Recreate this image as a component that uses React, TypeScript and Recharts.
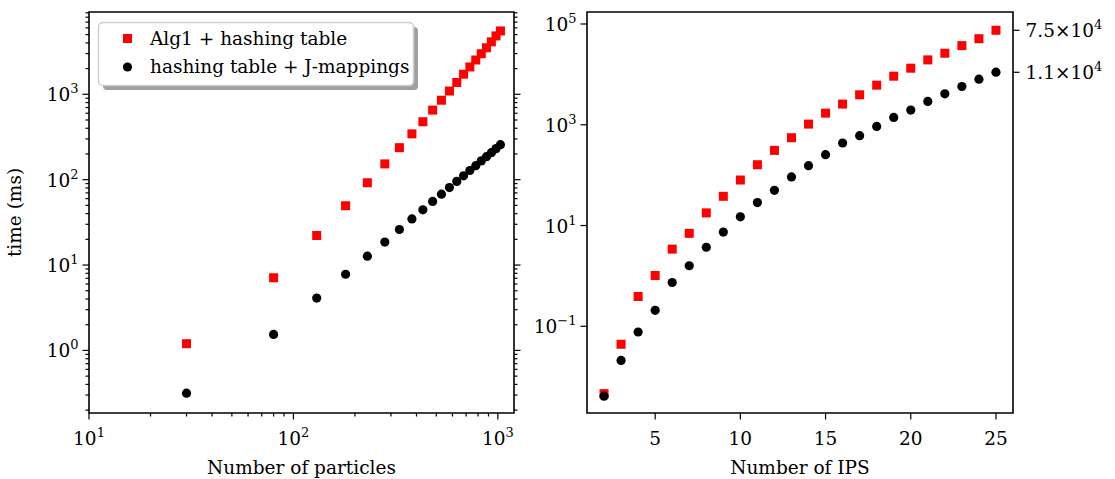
import React from "react";
import { ScatterChart, Scatter, XAxis, YAxis, ReferenceArea } from "recharts";

// left panel: time vs number of particles (log-log)
const particles = [30, 80, 130, 180, 230, 280, 330, 380, 430, 480, 530, 580, 630, 680, 730, 780, 830, 880, 930, 980, 1030];
const alg1Particles = [1.2, 7.1, 22.2, 49.5, 92, 153, 237, 344, 477, 653, 852, 1092, 1376, 1719, 2090, 2522, 2985, 3505, 4115, 4830, 5520];
const jmapParticles = [0.316, 1.54, 4.1, 7.8, 12.7, 18.6, 26.1, 34.7, 44.4, 55.6, 67.6, 80.8, 95.5, 111, 128, 146, 166, 186, 207, 231, 257];

// right panel: time vs number of IPS (semi-log)
const ips = [2, 3, 4, 5, 6, 7, 8, 9, 10, 11, 12, 13, 14, 15, 16, 17, 18, 19, 20, 21, 22, 23, 24, 25];
const alg1Ips = [0.0046, 0.044, 0.39, 1.02, 3.4, 7.0, 17.8, 38, 80, 161, 310, 553, 1030, 1700, 2570, 3930, 6110, 9200, 13270, 19400, 26300, 37200, 51000, 75000];
const jmapIps = [0.0041, 0.021, 0.077, 0.207, 0.74, 1.59, 3.7, 7.4, 14.9, 28.5, 50, 92, 154, 255, 434, 606, 925, 1395, 1955, 2900, 4110, 5750, 8040, 11070];

// ticks
const particleMajor = [10, 100, 1000];
const particleMinor = [20, 30, 40, 50, 60, 70, 80, 90, 200, 300, 400, 500, 600, 700, 800, 900];
const timeMajorL = [1, 10, 100, 1000];
const timeMinorL = [0.2, 0.3, 0.4, 0.5, 0.6, 0.7, 0.8, 0.9, 2, 3, 4, 5, 6, 7, 8, 9, 20, 30, 40, 50, 60, 70, 80, 90,
  200, 300, 400, 500, 600, 700, 800, 900, 2000, 3000, 4000, 5000, 6000, 7000, 8000, 9000];
const ipsTicks = [5, 10, 15, 20, 25];
const timeMajorR = [0.1, 10, 1000, 100000];
const endTicks = [11000, 75000];
const endLabels = ["1.1", "7.5"];

const FONT = "'DejaVu Serif', 'Liberation Serif', serif";
const FS = 18.5;
const SUP = 13;

const leftXDomain = [10, 1200];
const leftYDomain = [0.185, 9200];
const rightXDomain = [1, 26];
const rightYDomain = [0.0019, 173000];

const leftRed = particles.map((x, i) => ({ x, y: alg1Particles[i] }));
const leftBlack = particles.map((x, i) => ({ x, y: jmapParticles[i] }));
const rightRed = ips.map((x, i) => ({ x, y: alg1Ips[i] }));
const rightBlack = ips.map((x, i) => ({ x, y: jmapIps[i] }));

const isIn = (list: number[], v: number) => list.some((m) => Math.abs(m - v) / m < 1e-9);
const expOf = (v: number) => {
  const e = Math.round(Math.log10(v));
  return e < 0 ? "\u2212" + Math.abs(e) : String(e);
};

const Pow = ({ x, y, anchor, main, exp }: any) => (
  <text x={x} y={y} textAnchor={anchor} fontFamily={FONT} fontSize={FS} fill="#000">
    {main}
    <tspan dy={-8} fontSize={SUP}>{exp}</tspan>
  </text>
);

const yTick = (side: "left" | "right", majors: number[], withLabels: boolean) => (p: any) => {
  const { x, y, payload } = p;
  const v = payload.value;
  const major = isIn(majors, v);
  const len = major ? 6.5 : 3.5;
  const d = side === "left" ? -1 : 1;
  let label = null;
  if (withLabels && major) {
    if (side === "left") {
      label = <Pow x={x - len - 4} y={y + 7} anchor="end" main="10" exp={expOf(v)} />;
    } else {
      const i = endTicks.indexOf(v);
      label = <Pow x={x + len + 6} y={y + 7} anchor="start" main={endLabels[i] + "\u00d710"} exp="4" />;
    }
  }
  return (
    <g>
      <line x1={x} y1={y} x2={x + d * len} y2={y} stroke="#000" strokeWidth={1.2} />
      {label}
    </g>
  );
};

const xTick = (majors: number[], powLabels: boolean) => (p: any) => {
  const { x, y, payload } = p;
  const v = payload.value;
  const major = isIn(majors, v);
  const len = major ? 6.5 : 3.5;
  return (
    <g>
      <line x1={x} y1={y} x2={x} y2={y + len} stroke="#000" strokeWidth={1.2} />
      {major && powLabels && <Pow x={x} y={y + 32} anchor="middle" main="10" exp={expOf(v)} />}
      {major && !powLabels && (
        <text x={x} y={y + 32} textAnchor="middle" fontFamily={FONT} fontSize={FS} fill="#000">
          {v}
        </text>
      )}
    </g>
  );
};

const square = (p: any) => <rect x={p.cx - 4.5} y={p.cy - 4.5} width={9} height={9} fill="#ff0000" />;
const dot = (p: any) => <circle cx={p.cx} cy={p.cy} r={4.6} fill="#000" />;

const inside = (list: number[], dom: number[]) => list.filter((v) => v >= dom[0] && v <= dom[1]);

function LeftPanel() {
  return (
    <ScatterChart width={560} height={479} margin={{ top: 12, right: 0, bottom: 0, left: 0 }}>
      <XAxis dataKey="x" type="number" scale="log" domain={leftXDomain} allowDataOverflow
        ticks={inside([...particleMajor, ...particleMinor], leftXDomain)} interval={0}
        tickSize={0} tickMargin={0} tickLine={false} axisLine={false} height={66}
        tick={xTick(particleMajor, true)} />
      <YAxis yAxisId="L" dataKey="y" type="number" scale="log" domain={leftYDomain} allowDataOverflow
        ticks={inside([...timeMajorL, ...timeMinorL], leftYDomain)} interval={0}
        tickSize={0} tickMargin={0} tickLine={false} axisLine={false} width={89}
        tick={yTick("left", timeMajorL, true)} />
      <YAxis yAxisId="R" orientation="right" dataKey="y" type="number" scale="log" domain={leftYDomain} allowDataOverflow
        ticks={inside([...timeMajorL, ...timeMinorL], leftYDomain)} interval={0}
        tickSize={0} tickMargin={0} tickLine={false} axisLine={false} width={46}
        tick={yTick("right", timeMajorL, false)} />
      <ReferenceArea yAxisId="L" x1={leftXDomain[0]} x2={leftXDomain[1]} y1={leftYDomain[0]} y2={leftYDomain[1]}
        fill="none" stroke="#000" strokeWidth={1.6} ifOverflow="visible" />
      <Scatter yAxisId="L" data={leftRed} shape={square} isAnimationActive={false} />
      <Scatter yAxisId="R" data={leftBlack} shape={dot} isAnimationActive={false} />
    </ScatterChart>
  );
}

function RightPanel() {
  return (
    <ScatterChart width={595} height={479} margin={{ top: 12, right: 0, bottom: 0, left: 0 }}>
      <XAxis dataKey="x" type="number" domain={rightXDomain} allowDataOverflow
        ticks={ipsTicks} interval={0}
        tickSize={0} tickMargin={0} tickLine={false} axisLine={false} height={66}
        tick={xTick(ipsTicks, false)} />
      <YAxis yAxisId="L" dataKey="y" type="number" scale="log" domain={rightYDomain} allowDataOverflow
        ticks={timeMajorR} interval={0}
        tickSize={0} tickMargin={0} tickLine={false} axisLine={false} width={67}
        tick={yTick("left", timeMajorR, true)} />
      <YAxis yAxisId="R" orientation="right" dataKey="y" type="number" scale="log" domain={rightYDomain} allowDataOverflow
        ticks={endTicks} interval={0}
        tickSize={0} tickMargin={0} tickLine={false} axisLine={false} width={102}
        tick={yTick("right", endTicks, true)} />
      <ReferenceArea yAxisId="L" x1={rightXDomain[0]} x2={rightXDomain[1]} y1={rightYDomain[0]} y2={rightYDomain[1]}
        fill="none" stroke="#000" strokeWidth={1.6} ifOverflow="visible" />
      <Scatter yAxisId="L" data={rightRed} shape={square} isAnimationActive={false} />
      <Scatter yAxisId="R" data={rightBlack} shape={dot} isAnimationActive={false} />
    </ScatterChart>
  );
}

export default function App() {
  return (
    <div style={{ position: "absolute", left: 0, top: 0, width: 1115, height: 479, background: "#fff" }}>
      <div style={{ position: "absolute", left: 0, top: 0 }}>
        <LeftPanel />
      </div>
      <div style={{ position: "absolute", left: 520, top: 0 }}>
        <RightPanel />
      </div>
      <svg width={1115} height={479} style={{ position: "absolute", left: 0, top: 0, pointerEvents: "none" }}>
        <g fontFamily={FONT} fontSize={FS} fill="#000">
          <rect x={103} y={27} width={315} height={63} rx={4} fill="#a0a0a0" />
          <rect x={98.5} y={22.5} width={315} height={63} rx={4} fill="#fff" stroke="#cfcfcf" strokeWidth={1.5} />
          <rect x={123} y={34} width={9} height={9} fill="#ff0000" />
          <text x={150} y={45}>Alg1 + hashing table</text>
          <circle cx={127.5} cy={67} r={4.6} fill="#000" />
          <text x={150} y={73}>hashing table + J-mappings</text>
          <text x={301.5} y={474} textAnchor="middle">Number of particles</text>
          <text x={800} y={474} textAnchor="middle">Number of IPS</text>
          <text x={21} y={212.5} textAnchor="middle" transform="rotate(-90 21 212.5)">time (ms)</text>
        </g>
      </svg>
    </div>
  );
}
